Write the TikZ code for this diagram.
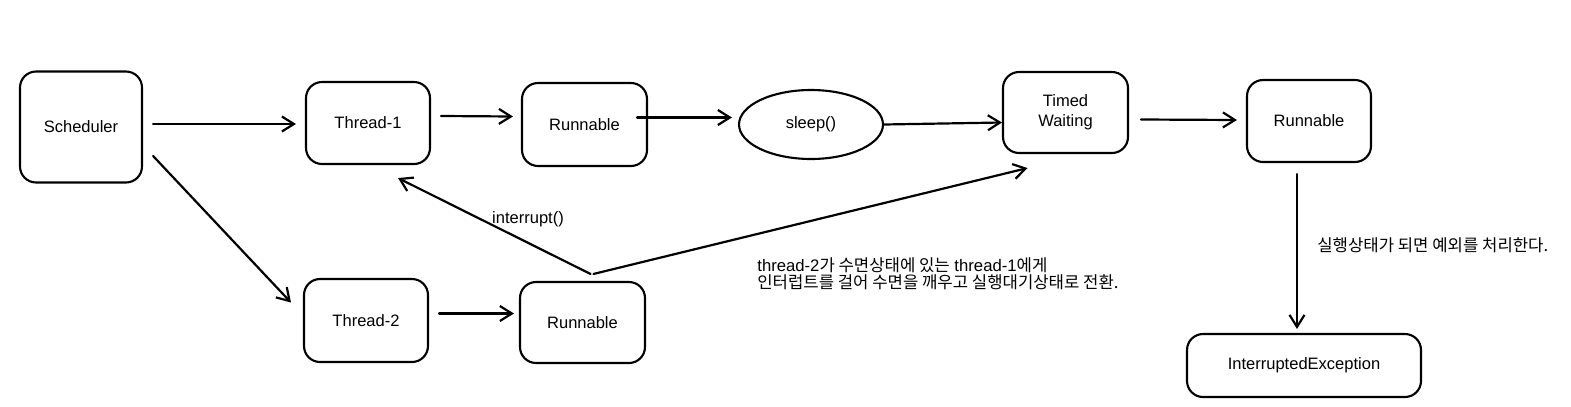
\documentclass[tikz,border=0pt]{standalone}
\usepackage{fontspec}
\setmainfont{Liberation Sans}
\newfontfamily\kr{Noto Sans CJK KR}
\usetikzlibrary{calc,shapes.geometric,arrows.meta}

\begin{document}
\begin{tikzpicture}[x=0.02cm, y=-0.02cm, line cap=round, line join=round,
  statebox/.style={draw, line width=1.2pt, rounded corners=0.32cm, inner sep=0pt,
    align=center, font=\fontsize{9.4}{11.4}\selectfont},
  callbox/.style={draw, ellipse, line width=1.2pt, inner sep=0pt,
    font=\fontsize{9.4}{11.4}\selectfont},
  arr/.style={line width=1.25pt, -{Straight Barb[length=0.24cm, width=0.3cm]}},
  note/.style={inner sep=0pt, align=left, font=\fontsize{9.5}{9.6}\selectfont}]

\useasboundingbox (0,0) rectangle (1571,406);

% 상태 노드
\node[statebox, minimum width=2.44cm, minimum height=2.22cm] (sched) at (81,127) {Scheduler};
\node[statebox, minimum width=2.48cm, minimum height=1.64cm] (t1) at (368,123) {Thread-1};
\node[statebox, minimum width=2.50cm, minimum height=1.66cm] (run1) at (584.5,124.5) {Runnable};
\node[callbox, minimum width=2.88cm, minimum height=1.38cm] (sleep) at (811,124.5) {sleep()};
\node[statebox, minimum width=2.50cm, minimum height=1.62cm] (tw) at (1065.5,112.5) {Timed\\Waiting};
\node[statebox, minimum width=2.48cm, minimum height=1.64cm] (run2) at (1309,121) {Runnable};
\node[statebox, minimum width=2.48cm, minimum height=1.66cm] (t2) at (366,320.5) {Thread-2};
\node[statebox, minimum width=2.50cm, minimum height=1.62cm] (run3) at (582.5,322.5) {Runnable};
\node[statebox, minimum width=4.68cm, minimum height=1.26cm] (exc) at (1304,365.5) {InterruptedException};

% 설명
\node[note, anchor=west] (wake) at (757,273.5)
  {thread-2{\kr 가 수면상태에 있는} thread-1{\kr 에게}\\{\kr 인터럽트를 걸어 수면을 깨우고 실행대기상태로 전환.}};
\node[note, anchor=west] (handle) at (1317,245) {\kr 실행상태가 되면 예외를 처리한다.};
\node[inner sep=0pt, font=\fontsize{9.4}{11.4}\selectfont] (intr) at (528,219) {interrupt()};

% 연결선
\draw[arr] ($(sched.east)+(10,-3)$) -- ($(t1.west)+(-9,1)$);
\draw[arr] ($(sched.-25)+(10,0)$) -- ($(t2.west)+(-12,-18)$);
\draw[arr] ($(t1.east)+(10,-7)$) -- ($(run1.west)+(-8,-8)$);
\draw[arr] ($(run1.east)+(-11,-7)$) -- ($(sleep.west)+(-6,-7)$);
\draw[arr] (sleep.east) -- ($(tw.west)+(0,10)$);
\draw[arr] ($(tw.east)+(12,7)$) -- ($(run2.west)+(-9,-1)$);
\draw[arr] ($(run2.south)+(-12,11)$) -- ($(exc.north)+(-7,-4)$);
\draw[arr] ($(t2.east)+(10,-7)$) -- ($(run3.west)+(-5,-9)$);
\draw[arr] ($(run3.north)+(8,-7)$) -- ($(t1.south)+(30,13)$);
\draw[arr] ($(run3.north)+(11,-7)$) -- ($(tw.south)+(-38,14)$);

\end{tikzpicture}
\end{document}
